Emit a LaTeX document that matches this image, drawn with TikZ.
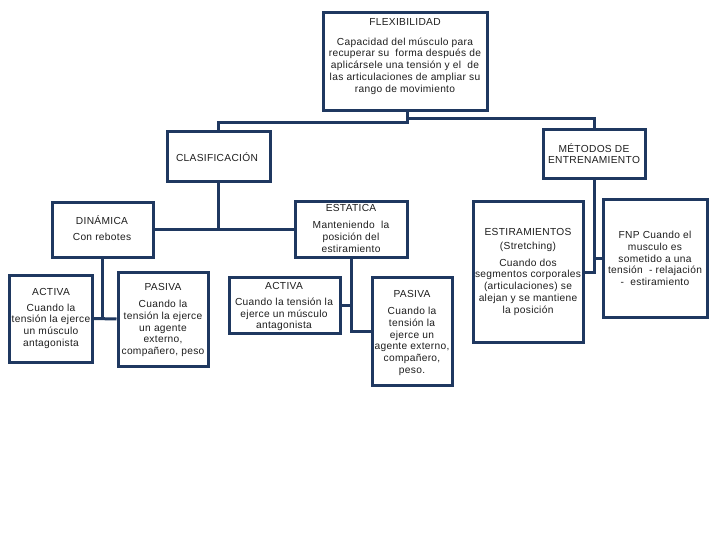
\documentclass[tikz,border=0pt]{standalone}
\usepackage{fontspec}
\setmainfont{Liberation Sans}[LetterSpace=3]
\definecolor{navy}{RGB}{31,56,96}
\definecolor{ink}{RGB}{30,30,30}
\begin{document}
\begin{tikzpicture}[x=1pt,y=-1pt,
  box/.style={draw=navy,line width=3pt,fill=white,inner sep=0pt,rectangle},
  conn/.style={draw=navy,line width=3pt},
  txt/.style={text=ink,align=center,inner sep=0pt,font=\fontsize{10.2}{11.7}\selectfont}]
\useasboundingbox[fill=white] (0,0) rectangle (720,540);
% boxes
\node[box,minimum width=164pt,minimum height=98pt] (flex) at (405,62) {};
\node[box,minimum width=103pt,minimum height=50pt] (clas) at (218.5,157) {};
\node[box,minimum width=102pt,minimum height=49pt] (met) at (594,154.5) {};
\node[box,minimum width=101pt,minimum height=54pt] (din) at (102.5,230) {};
\node[box,minimum width=112pt,minimum height=55pt] (est) at (351,229.5) {};
\node[box,minimum width=83pt,minimum height=87pt] (act1) at (50.5,318.5) {};
\node[box,minimum width=90pt,minimum height=94pt] (pas1) at (163,319) {};
\node[box,minimum width=111pt,minimum height=56pt] (act2) at (284.5,305) {};
\node[box,minimum width=80pt,minimum height=108pt] (pas2) at (412,331) {};
\node[box,minimum width=110pt,minimum height=140pt] (estr) at (528,272) {};
\node[box,minimum width=104pt,minimum height=117pt] (fnp) at (655,258.5) {};
% connectors
\draw[conn] ([xshift=2pt]flex.south) -- ++(0,10) -| (clas.north);
\draw[conn] ([xshift=2pt]flex.south) -- ++(0,6) -| (met.north);
\draw[conn] (clas.south) -- ++(0,46) coordinate (j1);
\draw[conn] (din.east |- j1) -- (est.west |- j1);
\draw[conn] (din.south) -- (din.south |- act1.east);
\draw[conn] (act1.east) -- (pas1.west);
\draw[conn] (est.south) |- (pas2.west);
\draw[conn] (act2.east) -- (est.south |- act2.east);
\draw[conn] (met.south) |- (estr.east);
\draw[conn] (met.south |- fnp.west) -- (fnp.west);
% texts
\node[txt] (tflex) at (405,22) {FLEXIBILIDAD};
\node[txt] (bflex) at (405,66) {Capacidad del músculo para\\recuperar su\ \ forma después de\\aplicársele una tensión y el\ \ de\\las articulaciones de ampliar su\\rango de movimiento};
\node[txt] (tclas) at (217,157) {CLASIFICACIÓN};
\node[txt] (tmet) at (594,153.5) {MÉTODOS DE\\ENTRENAMIENTO};
\node[txt] (tdin) at (102,220) {DINÁMICA};
\node[txt] (bdin) at (102,237) {Con rebotes};
\node[txt] (test) at (351,208) {ESTATICA};
\node[txt] (best) at (351,237) {Manteniendo\ \ la\\posición del\\estiramiento};
\node[txt] (tact1) at (51,292) {ACTIVA};
\node[txt] (bact1) at (51,326) {Cuando la\\tensión la ejerce\\un músculo\\antagonista};
\node[txt] (tpas1) at (163,287) {PASIVA};
\node[txt] (bpas1) at (163,328.5) {Cuando la\\tensión la ejerce\\un agente\\externo,\\compañero, peso};
\node[txt] (tact2) at (284,286) {ACTIVA};
\node[txt] (bact2) at (284,314.5) {Cuando la tensión la\\ejerce un músculo\\antagonista};
\node[txt] (tpas2) at (412,294) {PASIVA};
\node[txt] (bpas2) at (412,341.5) {Cuando la\\tensión la\\ejerce un\\agente externo,\\compañero,\\peso.};
\node[txt] (testr) at (528,232) {ESTIRAMIENTOS};
\node[txt] (sestr) at (528,247) {(Stretching)};
\node[txt] (bestr) at (528,287) {Cuando dos\\segmentos corporales\\(articulaciones) se\\alejan y se mantiene\\la posición};
\node[txt] (bfnp) at (655,258.5) {FNP Cuando el\\musculo es\\sometido a una\\tensión\ \ - relajación\\-\ \ estiramiento};
\end{tikzpicture}
\end{document}
